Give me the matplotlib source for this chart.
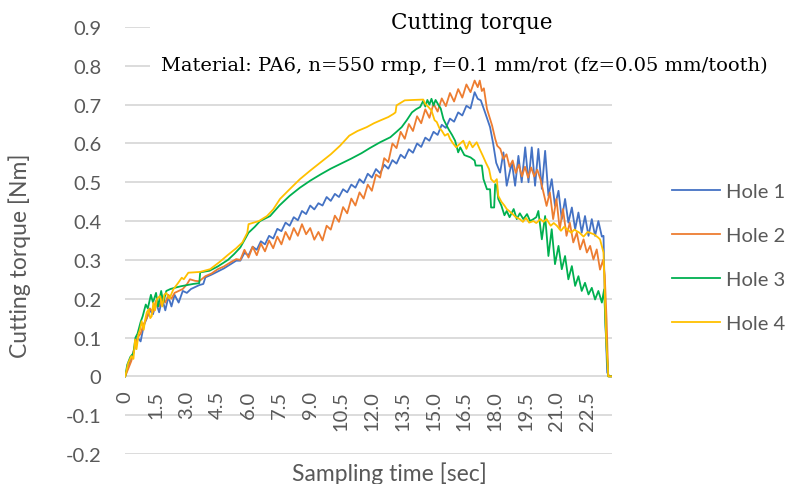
import matplotlib
matplotlib.use("Agg")
import matplotlib.pyplot as plt
from matplotlib.patches import Rectangle

plt.rcParams['font.family'] = ['Lato', 'DejaVu Sans']

# ---- data ----
hole1_time = [0, 0.15, 0.3, 0.45, 0.6, 0.75, 0.9, 1.05, 1.2, 1.35,
              1.5, 1.65, 1.8, 1.95, 2.1, 2.25, 2.4, 2.6, 2.8, 3.0,
              3.2, 3.4, 3.6, 3.8, 3.9, 4.2, 4.5, 4.8, 5.1, 5.4,
              5.6, 5.8, 6.0, 6.2, 6.4, 6.6, 6.8, 7.0, 7.2, 7.4,
              7.6, 7.8, 8.0, 8.2, 8.4, 8.6, 8.8, 9.0, 9.2, 9.4,
              9.6, 9.8, 10.0, 10.2, 10.4, 10.6, 10.8, 11.0, 11.2, 11.4,
              11.6, 11.8, 12.0, 12.2, 12.4, 12.6, 12.8, 13.0, 13.2, 13.4,
              13.6, 13.8, 14.0, 14.2, 14.4, 14.6, 14.8, 15.0, 15.2, 15.4,
              15.6, 15.8, 16.0, 16.2, 16.4, 16.6, 16.8, 17.0,
              17.15, 17.3, 17.5, 17.75, 17.9, 18.05, 18.24, 18.40, 18.56, 18.81,
              18.97, 19.13, 19.29, 19.46, 19.62, 19.78, 19.94, 20.10, 20.27, 20.43,
              20.59, 20.75, 20.91, 21.08, 21.24, 21.40, 21.56, 21.73, 21.89, 22.05,
              22.21, 22.37, 22.54, 22.70, 22.86, 23.02, 23.19, 23.27, 23.35, 23.45,
              23.55, 23.7]
hole1_torque = [0, 0.03, 0.045, 0.07, 0.10, 0.09, 0.13, 0.15, 0.17, 0.16,
                0.19, 0.165, 0.20, 0.17, 0.205, 0.18, 0.21, 0.19, 0.22, 0.215,
                0.225, 0.23, 0.235, 0.238, 0.255, 0.262, 0.27, 0.278, 0.288, 0.298,
                0.298, 0.318, 0.312, 0.334, 0.326, 0.348, 0.340, 0.362, 0.355, 0.380,
                0.374, 0.396, 0.388, 0.410, 0.402, 0.426, 0.418, 0.440, 0.430, 0.446,
                0.440, 0.462, 0.452, 0.470, 0.462, 0.482, 0.474, 0.494, 0.486, 0.508,
                0.498, 0.522, 0.512, 0.534, 0.523, 0.545, 0.535, 0.557, 0.548, 0.571,
                0.562, 0.585, 0.576, 0.600, 0.591, 0.615, 0.607, 0.630, 0.622, 0.648,
                0.640, 0.664, 0.656, 0.680, 0.672, 0.697, 0.690, 0.732,
                0.715, 0.711, 0.681, 0.642, 0.600, 0.550, 0.525, 0.577, 0.491, 0.551,
                0.491, 0.568, 0.500, 0.590, 0.500, 0.590, 0.491, 0.586, 0.483, 0.581,
                0.465, 0.508, 0.439, 0.478, 0.405, 0.457, 0.396, 0.435, 0.379, 0.422,
                0.370, 0.413, 0.362, 0.405, 0.362, 0.400, 0.360, 0.362, 0.16, 0.01,
                0.0, 0.0]

hole2_time = [0, 0.15, 0.3, 0.45, 0.6, 0.75, 0.9, 1.05, 1.2, 1.35,
              1.5, 1.65, 1.8, 1.95, 2.1, 2.25, 2.4, 2.6, 2.8, 3.0,
              3.15, 3.4, 3.6, 3.9, 4.2, 4.5, 4.8, 5.1, 5.4,
              5.6, 5.8, 6.0, 6.2, 6.4, 6.6, 6.8, 7.0, 7.2, 7.4,
              7.6, 7.8, 8.0, 8.2, 8.4, 8.6, 8.8, 9.0, 9.2, 9.4,
              9.6, 9.8, 10.0, 10.2, 10.4, 10.6, 10.8, 11.0, 11.2, 11.4,
              11.6, 11.8, 12.0, 12.2, 12.4, 12.6, 12.8, 13.0, 13.2, 13.4,
              13.6, 13.8, 14.0, 14.2, 14.4, 14.6, 14.8, 15.0, 15.2, 15.4,
              15.6, 15.8, 16.0, 16.2, 16.4, 16.6, 16.8, 17.0,
              17.15, 17.25, 17.35, 17.45, 17.6, 17.75, 17.85, 18.0, 18.1, 18.25,
              18.4, 18.55, 18.7, 18.85, 19.0, 19.15, 19.3, 19.45, 19.6, 19.75,
              19.9, 20.05, 20.2, 20.35, 20.5, 20.66, 20.82, 20.98, 21.14, 21.3,
              21.47, 21.63, 21.8, 21.97, 22.13, 22.3, 22.46, 22.62, 22.78, 22.94,
              23.1, 23.25, 23.33, 23.42, 23.5, 23.7]
hole2_torque = [0, 0.02, 0.04, 0.075, 0.10, 0.11, 0.135, 0.15, 0.175, 0.165,
                0.195, 0.18, 0.205, 0.19, 0.21, 0.2, 0.215, 0.22, 0.225, 0.237,
                0.25, 0.246, 0.245, 0.258, 0.265, 0.276, 0.283, 0.293, 0.302,
                0.300, 0.326, 0.306, 0.334, 0.312, 0.342, 0.322, 0.350, 0.330, 0.360,
                0.340, 0.372, 0.352, 0.382, 0.362, 0.392, 0.366, 0.382, 0.352, 0.372,
                0.350, 0.388, 0.378, 0.414, 0.398, 0.436, 0.420, 0.458, 0.440, 0.474,
                0.458, 0.494, 0.478, 0.520, 0.512, 0.562, 0.552, 0.600, 0.588, 0.630,
                0.612, 0.650, 0.632, 0.670, 0.652, 0.688, 0.666, 0.702, 0.682, 0.716,
                0.696, 0.730, 0.708, 0.740, 0.718, 0.752, 0.732, 0.762,
                0.745, 0.762, 0.735, 0.742, 0.689, 0.663, 0.646, 0.612, 0.594, 0.586,
                0.560, 0.572, 0.540, 0.556, 0.524, 0.545, 0.515, 0.540, 0.512, 0.538,
                0.515, 0.532, 0.508, 0.474, 0.439, 0.474, 0.405, 0.457, 0.379, 0.431,
                0.362, 0.396, 0.345, 0.370, 0.327, 0.353, 0.319, 0.336, 0.301, 0.327,
                0.275, 0.300, 0.260, 0.146, 0.0, 0.0]

hole3_time = [0, 0.1, 0.25, 0.4, 0.5, 0.6, 0.75, 0.85, 1.0, 1.1,
              1.25, 1.35, 1.5, 1.6, 1.75, 1.85, 2.0, 2.2, 2.4, 2.7,
              3.0, 3.3, 3.6, 3.65, 4.1, 4.5, 5.0, 5.3, 5.6,
              6.0, 6.3, 6.56, 7.05, 7.5, 8.0, 8.5, 9.0, 9.5, 10.0,
              10.5, 11.0, 11.5, 11.9, 12.4, 12.9, 13.2, 13.45, 13.7, 13.95,
              14.15, 14.35, 14.5, 14.6, 14.7, 14.8, 14.9, 15.0, 15.1, 15.23,
              15.35, 15.48, 15.6, 15.75, 15.9, 16.05, 16.2, 16.3, 16.5, 16.8,
              17.0, 17.05, 17.35, 17.43, 17.6, 17.75, 17.8, 17.95, 18.0, 18.08,
              18.15, 18.3, 18.45, 18.56, 18.7, 18.9, 19.05, 19.2, 19.37, 19.55,
              19.7, 19.86, 20.0, 20.1, 20.27, 20.43, 20.59, 20.75, 20.91, 21.08,
              21.24, 21.4, 21.56, 21.73, 21.89, 22.05, 22.21, 22.37, 22.54, 22.7,
              22.86, 23.02, 23.19, 23.3, 23.37, 23.45, 23.5, 23.7]
hole3_torque = [0, 0.03, 0.05, 0.06, 0.10, 0.11, 0.14, 0.155, 0.185, 0.175,
                0.21, 0.19, 0.215, 0.18, 0.22, 0.19, 0.22, 0.225, 0.228, 0.232,
                0.235, 0.238, 0.24, 0.268, 0.272, 0.283, 0.300, 0.315, 0.332,
                0.37, 0.385, 0.40, 0.413, 0.44, 0.465, 0.486, 0.504, 0.52, 0.535,
                0.548, 0.561, 0.575, 0.588, 0.603, 0.616, 0.63, 0.642, 0.66, 0.68,
                0.688, 0.694, 0.71, 0.695, 0.712, 0.70, 0.715, 0.698, 0.712, 0.70,
                0.69, 0.663, 0.65, 0.635, 0.622, 0.607, 0.577, 0.59, 0.57, 0.564,
                0.556, 0.543, 0.543, 0.508, 0.482, 0.482, 0.435, 0.435, 0.495, 0.49,
                0.457, 0.44, 0.415, 0.426, 0.41, 0.431, 0.405, 0.42, 0.405, 0.418,
                0.400, 0.405, 0.41, 0.426, 0.353, 0.413, 0.31, 0.379, 0.289, 0.336,
                0.276, 0.31, 0.25, 0.284, 0.233, 0.258, 0.22, 0.241, 0.211, 0.228,
                0.198, 0.22, 0.19, 0.224, 0.129, 0.043, 0.0, 0.0]

hole4_time = [0, 0.15, 0.3, 0.4, 0.48, 0.55, 0.65, 0.72, 0.8, 0.9,
              0.97, 1.05, 1.13, 1.22, 1.29, 1.37, 1.45, 1.55, 1.69, 1.8,
              1.9, 2.0, 2.15, 2.34, 2.58, 2.75, 2.85, 3.07, 3.64, 4.13,
              4.6, 5.0, 5.4, 5.7, 5.94, 6.0,
              6.5, 6.9, 7.2, 7.53, 8.0, 8.5, 9.0, 9.5, 10.0, 10.45,
              10.9, 11.3, 11.75, 12.1, 12.4, 12.8, 13.05, 13.15, 13.2, 13.6,
              14.0, 14.5, 14.6, 14.75,
              14.9, 15.05, 15.16, 15.28, 15.4, 15.55, 15.7, 15.8, 15.95, 16.1,
              16.3, 16.45, 16.6, 16.75, 16.9, 17.1, 17.25, 17.4, 17.55, 17.7,
              17.8, 17.95, 18.08, 18.15, 18.3, 18.45, 18.56, 18.7, 18.85, 19.0,
              19.2, 19.35, 19.5, 19.65, 19.86, 20.0, 20.2, 20.35, 20.5, 20.7,
              20.85, 21.0, 21.2, 21.35, 21.5, 21.7, 21.85, 22.1, 22.3, 22.5,
              22.8, 23.0, 23.1, 23.27, 23.4, 23.5, 23.7]
hole4_torque = [0, 0.035, 0.052, 0.045, 0.095, 0.07, 0.11, 0.12, 0.142, 0.12,
                0.146, 0.165, 0.172, 0.15, 0.155, 0.19, 0.17, 0.20, 0.207, 0.18,
                0.21, 0.215, 0.20, 0.224, 0.241, 0.254, 0.25, 0.267, 0.269, 0.276,
                0.295, 0.313, 0.33, 0.345, 0.37, 0.392,
                0.40, 0.413, 0.43, 0.457, 0.482, 0.508, 0.53, 0.551, 0.572, 0.594,
                0.62, 0.632, 0.642, 0.652, 0.659, 0.668, 0.676, 0.68, 0.698, 0.711,
                0.712, 0.713, 0.702, 0.694,
                0.685, 0.66, 0.655, 0.64, 0.633, 0.62, 0.625, 0.612, 0.60, 0.59,
                0.60, 0.607, 0.586, 0.605, 0.59, 0.603, 0.585, 0.568, 0.55, 0.534,
                0.508, 0.50, 0.508, 0.465, 0.45, 0.44, 0.431, 0.425, 0.418, 0.41,
                0.405, 0.398, 0.408, 0.396, 0.40, 0.395, 0.405, 0.398, 0.405, 0.388,
                0.395, 0.388, 0.375, 0.385, 0.379, 0.37, 0.378, 0.37, 0.36, 0.372,
                0.366, 0.358, 0.353, 0.319, 0.10, 0.0, 0.0]

series_names = ['Hole 1', 'Hole 2', 'Hole 3', 'Hole 4']
series_colors = ['#4472C4', '#ED7D31', '#00B050', '#FFC000']

x_ticks = [0, 1.5, 3.0, 4.5, 6.0, 7.5, 9.0, 10.5, 12.0, 13.5, 15.0, 16.5, 18.0, 19.5, 21.0, 22.5]
x_ticklabels = ['0', '1.5', '3.0', '4.5', '6.0', '7.5', '9.0', '10.5', '12.0',
                '13.5', '15.0', '16.5', '18.0', '19.5', '21.0', '22.5']
y_ticks = [-0.2, -0.1, 0, 0.1, 0.2, 0.3, 0.4, 0.5, 0.6, 0.7, 0.8, 0.9]
y_ticklabels = ['-0.2', '-0.1', '0', '0.1', '0.2', '0.3', '0.4', '0.5', '0.6', '0.7', '0.8', '0.9']

grey = '#595959'

fig = plt.figure(figsize=(7.89, 4.85), dpi=100)
ax = fig.add_axes([0.1587, 0.0619, 0.6174, 0.8804])

all_t = [hole1_time, hole2_time, hole3_time, hole4_time]
all_v = [hole1_torque, hole2_torque, hole3_torque, hole4_torque]
for t, v, name, c in zip(all_t, all_v, series_names, series_colors):
    ax.plot(t, v, color=c, lw=1.3, label=name, zorder=2)

ax.set_xlim(0, 23.7)
ax.set_ylim(-0.2, 0.9)
for s in ax.spines.values():
    s.set_visible(False)
ax.spines['bottom'].set_position(('data', 0))

ax.set_yticks(y_ticks)
ax.set_yticklabels(y_ticklabels)
ax.set_xticks(x_ticks)
ax.set_xticklabels(x_ticklabels, rotation=90)
ax.tick_params(axis='y', length=0, pad=17, labelsize=14.5, labelcolor=grey)
ax.tick_params(axis='x', length=0, pad=10, labelsize=14.5, labelcolor=grey)

ax.set_axisbelow(True)
ax.grid(axis='y', color='#D9D9D9', lw=1.3)
ax.xaxis.set_zorder(3)  # category labels sit on top of the gridlines

# white title box hides the top gridlines
ax.add_patch(Rectangle((150 / 789, 1 - 80 / 485), (785 - 150) / 789, 80 / 485,
                       transform=fig.transFigure, facecolor='white',
                       edgecolor='none', zorder=1, clip_on=False))

fig.text(472 / 789, 1 - 29.3 / 485, 'Cutting torque', ha='center', va='baseline',
         fontsize=15.5, family='DejaVu Serif', color='black')
fig.text(464.7 / 789, 1 - 70.7 / 485,
         'Material: PA6, n=550 rmp, f=0.1 mm/rot (fz=0.05 mm/tooth)',
         ha='center', va='baseline', fontsize=14, family='DejaVu Serif', color='black')

fig.text(20 / 789, 1 - 255.5 / 485, 'Cutting torque [Nm]', rotation=90,
         ha='center', va='center', fontsize=16.5, color=grey)
fig.text(389 / 789, 1 - 480.7 / 485, 'Sampling time [sec]', ha='center',
         va='baseline', fontsize=16.5, color=grey)

leg = ax.legend(loc='center left', bbox_to_anchor=(672 / 789, 1 - 258.5 / 485),
                bbox_transform=fig.transFigure, frameon=False, fontsize=14.5,
                handlelength=2.4, handletextpad=0.3, labelspacing=1.35,
                borderpad=0, borderaxespad=0)
for txt in leg.get_texts():
    txt.set_color(grey)

fig.savefig('out.png', dpi=100)
